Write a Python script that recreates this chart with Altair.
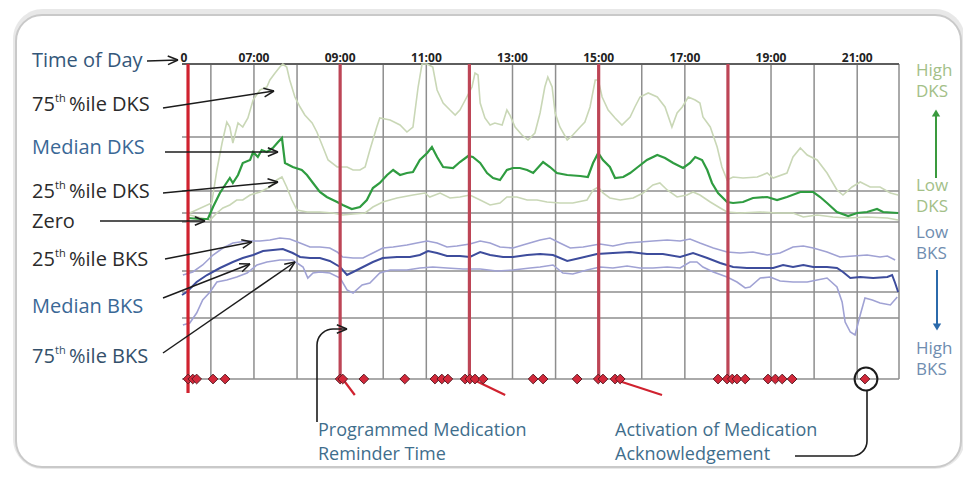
import math
import altair as alt
import pandas as pd

# ---------------- data (time of day in hours, score units) ----------------
dks_median = [(5.47,-0.5),(5.74,-0.6),(5.93,-0.6),(6.05,0.6),(6.21,2.0),(6.33,2.8),(6.44,3.5),(6.51,3.0),(6.63,3.8),(6.74,5.0),
    (6.91,5.3),(6.98,6.1),(7.09,5.6),(7.18,6.3),(7.30,6.1),(7.44,6.5),(7.56,7.1),(7.65,7.5),(7.72,5.0),(7.90,4.6),
    (8.11,4.3),(8.23,3.8),(8.37,3.0),(8.53,2.1),(8.69,1.6),(8.93,1.1),(9.06,0.8),(9.27,0.4),(9.46,0.6),(9.62,1.3),
    (9.76,2.5),(9.92,3.0),(10.09,3.8),(10.23,4.3),(10.39,3.8),(10.55,4.0),(10.69,4.1),(10.85,5.3),(11.02,6.0),(11.13,6.6),
    (11.25,5.6),(11.39,4.6),(11.62,4.5),(11.78,5.1),(11.97,5.7),(12.08,5.6),(12.25,5.0),(12.41,4.0),(12.55,3.5),(12.71,3.3),
    (12.87,4.3),(13.01,4.5),(13.17,4.5),(13.34,4.3),(13.48,4.0),(13.71,5.1),(13.87,4.6),(14.03,4.0),(14.27,3.8),(14.57,3.7),
    (14.75,3.6),(14.87,5.0),(14.99,6.0),(15.10,5.3),(15.26,4.6),(15.38,3.5),(15.57,3.6),(15.73,4.0),(15.91,4.6),(16.12,5.3),
    (16.36,5.8),(16.54,5.5),(16.73,5.0),(16.96,4.5),(17.12,5.0),(17.24,5.6),(17.40,5.3),(17.52,4.3),(17.63,3.0),(17.77,2.0),
    (17.98,1.1),(18.12,1.0),(18.35,1.1),(18.58,1.5),(18.91,1.6),(19.14,1.3),(19.37,1.6),(19.68,2.1),(19.98,2.1),(20.14,1.6),
    (20.30,1.0),(20.53,0.1),(20.79,-0.3),(21.00,0.0),(21.23,0.1),(21.46,0.4),(21.60,0.1),(21.95,0.0)]

dks_p75 = [(5.51,0.0),(6.02,1.0),(6.14,4.3),(6.26,7.0),(6.37,9.1),(6.44,8.6),(6.51,7.0),(6.63,9.0),(6.74,8.6),(6.86,9.5),
    (6.98,11.3),(7.14,12.3),(7.30,12.6),(7.37,13.3),(7.49,14.0),(7.60,14.6),(7.67,14.9),(7.76,14.6),(7.83,13.3),(7.95,11.6),
    (8.07,10.6),(8.18,9.8),(8.35,9.0),(8.46,8.1),(8.60,6.6),(8.72,5.3),(8.93,4.6),(9.16,4.6),(9.30,4.3),(9.46,4.3),
    (9.58,4.6),(9.69,6.3),(9.85,8.6),(9.92,9.5),(10.16,9.3),(10.39,8.8),(10.55,8.1),(10.69,8.6),(10.81,12.6),(10.90,14.9),
    (11.02,14.9),(11.15,14.6),(11.25,12.3),(11.39,11.0),(11.55,10.3),(11.67,9.8),(11.78,10.3),(11.94,11.6),(12.06,12.6),(12.13,14.0),
    (12.20,13.8),(12.25,11.0),(12.36,9.5),(12.48,8.8),(12.59,9.0),(12.76,8.8),(12.87,10.3),(12.94,9.8),(13.06,8.6),(13.22,7.8),
    (13.36,7.3),(13.52,8.0),(13.64,10.0),(13.75,12.6),(13.82,13.6),(13.92,12.6),(13.99,10.0),(14.10,8.6),(14.27,7.3),(14.40,7.8),
    (14.57,8.6),(14.68,9.1),(14.80,10.6),(14.92,13.3),(14.99,13.3),(15.08,11.6),(15.22,10.3),(15.38,9.5),(15.54,8.8),(15.73,9.6),
    (15.84,10.6),(15.96,11.6),(16.15,12.0),(16.36,11.6),(16.54,10.6),(16.70,8.6),(16.82,10.0),(16.94,10.6),(17.08,11.6),(17.24,11.3),
    (17.35,11.0),(17.42,9.6),(17.59,8.6),(17.75,6.6),(17.86,4.6),(17.98,3.3),(18.12,3.6),(18.35,3.5),(18.68,3.6),(18.91,4.0),
    (19.05,3.5),(19.37,4.0),(19.51,5.6),(19.68,6.5),(19.84,5.8),(20.07,5.3),(20.30,4.0),(20.53,2.3),(20.67,1.8),(20.88,2.6),
    (21.07,3.1),(21.30,2.6),(21.53,2.6),(21.77,2.0),(21.95,1.8)]

dks_p25 = [(5.51,-0.2),(5.98,-0.7),(6.14,0.0),(6.28,0.5),(6.44,0.8),(6.60,1.3),(6.74,1.3),(6.91,1.8),(7.14,2.1),(7.37,2.6),
    (7.53,3.3),(7.65,3.6),(7.76,2.6),(7.88,1.3),(8.00,0.3),(8.23,0.1),(8.53,0.1),(8.83,0.0),(9.06,-0.2),(9.30,-0.1),
    (9.58,0.0),(9.76,0.6),(9.99,1.1),(10.32,1.5),(10.69,1.8),(10.97,2.0),(11.08,1.6),(11.32,2.0),(11.55,1.5),(11.78,1.6),
    (12.01,1.8),(12.25,1.3),(12.48,0.8),(12.71,1.0),(12.87,1.6),(13.10,1.6),(13.34,1.3),(13.57,1.3),(13.80,1.1),(14.10,1.0),
    (14.40,1.0),(14.73,1.3),(14.87,2.3),(14.99,2.6),(15.10,2.0),(15.26,1.5),(15.50,1.3),(15.80,1.5),(16.03,2.0),(16.26,2.8),
    (16.42,3.0),(16.59,2.3),(16.82,1.6),(17.05,1.8),(17.19,2.1),(17.35,1.8),(17.59,1.1),(17.82,0.5),(17.98,0.1),(18.28,0.0),
    (18.75,0.1),(19.14,0.0),(19.51,0.0),(19.75,-0.4),(20.07,-0.2),(20.44,-0.4),(20.77,-0.5),(21.23,-0.4),(21.70,-0.5),(21.95,-0.7)]

bks_p25 = [(5.35,-6.2),(5.58,-5.9),(5.81,-5.2),(6.05,-4.2),(6.28,-3.5),(6.51,-3.0),(6.84,-2.8),(7.14,-2.8),(7.37,-2.7),(7.60,-2.5),
    (7.83,-2.6),(8.07,-3.0),(8.30,-3.4),(8.53,-3.4),(8.76,-3.5),(8.93,-3.9),(9.06,-4.4),(9.30,-4.5),(9.53,-4.5),(9.76,-4.0),
    (9.99,-3.5),(10.23,-3.4),(10.55,-3.2),(10.78,-3.0),(11.02,-2.8),(11.25,-3.0),(11.48,-3.4),(11.71,-3.3),(12.01,-3.1),(12.25,-2.8),
    (12.48,-3.0),(12.71,-3.4),(13.01,-3.5),(13.24,-3.2),(13.48,-2.9),(13.64,-2.7),(13.87,-2.5),(14.10,-3.0),(14.34,-3.5),(14.64,-3.4),
    (15.03,-3.1),(15.33,-3.3),(15.66,-3.0),(15.96,-2.9),(16.26,-2.8),(16.59,-2.7),(16.89,-2.8),(17.12,-2.6),(17.35,-3.0),(17.66,-3.5),
    (17.98,-3.9),(18.28,-4.0),(18.58,-3.9),(18.91,-4.2),(19.21,-4.0),(19.51,-3.4),(19.75,-3.3),(19.98,-3.5),(20.30,-3.9),(20.60,-4.4),
    (20.91,-4.3),(21.23,-4.2),(21.53,-4.4),(21.70,-4.3),(21.88,-4.7)]

bks_median = [(5.33,-8.2),(5.44,-7.9),(5.67,-6.9),(5.91,-6.2),(6.21,-5.5),(6.51,-4.9),(6.74,-4.5),(6.98,-4.2),(7.21,-3.8),(7.44,-3.7),
    (7.67,-3.6),(7.90,-4.0),(8.07,-4.4),(8.30,-4.5),(8.53,-4.5),(8.76,-4.8),(9.00,-5.4),(9.16,-6.2),(9.30,-5.9),(9.53,-5.4),
    (9.76,-4.9),(9.99,-4.5),(10.32,-4.4),(10.62,-4.4),(10.85,-4.2),(11.04,-3.8),(11.25,-4.0),(11.48,-4.3),(11.78,-4.3),(12.01,-4.4),
    (12.25,-3.9),(12.48,-4.2),(12.78,-4.4),(13.01,-4.4),(13.34,-4.2),(13.64,-4.1),(13.94,-4.2),(14.27,-4.8),(14.57,-4.5),(14.96,-4.1),
    (15.33,-4.0),(15.73,-3.9),(16.12,-4.1),(16.49,-4.1),(16.89,-4.4),(17.19,-4.0),(17.52,-4.5),(17.82,-5.0),(18.12,-5.4),(18.44,-5.5),
    (18.75,-5.5),(19.05,-5.5),(19.28,-5.2),(19.51,-5.4),(19.75,-5.2),(19.98,-5.4),(20.30,-5.4),(20.53,-5.5),(20.67,-5.9),(20.84,-6.5),
    (21.07,-6.4),(21.37,-6.5),(21.70,-6.4),(21.81,-6.2),(21.88,-7.0),(21.95,-7.9)]

bks_p75 = [(5.35,-11.2),(5.51,-11.0),(5.67,-10.0),(5.81,-8.7),(5.98,-7.9),(6.14,-6.9),(6.37,-6.7),(6.60,-6.4),(6.84,-6.0),(7.07,-5.2),
    (7.30,-4.9),(7.60,-4.7),(7.90,-4.7),(8.14,-5.4),(8.25,-6.5),(8.37,-6.0),(8.53,-5.9),(8.76,-6.0),(9.00,-6.5),(9.16,-7.7),
    (9.30,-8.0),(9.51,-7.2),(9.69,-7.0),(9.92,-6.0),(10.16,-5.7),(10.55,-5.7),(10.85,-5.5),(11.15,-5.4),(11.48,-5.5),(11.85,-5.6),
    (12.25,-5.6),(12.64,-5.8),(13.01,-5.7),(13.41,-5.5),(13.64,-5.4),(13.94,-5.2),(14.17,-6.0),(14.40,-6.1),(14.73,-5.7),(15.03,-5.4),
    (15.33,-5.5),(15.66,-5.3),(15.96,-5.5),(16.26,-5.5),(16.59,-5.4),(16.89,-5.5),(17.12,-4.9),(17.28,-4.9),(17.42,-5.4),(17.66,-5.9),
    (17.98,-6.4),(18.21,-6.9),(18.40,-7.5),(18.51,-7.4),(18.75,-6.5),(18.98,-6.4),(19.21,-6.8),(19.51,-6.9),(19.84,-6.9),(20.07,-6.7),
    (20.30,-6.5),(20.53,-7.4),(20.65,-8.9),(20.72,-10.9),(20.84,-11.9),(20.95,-12.2),(21.07,-10.2),(21.18,-8.5),(21.35,-8.7),(21.53,-9.0),
    (21.77,-9.2),(21.93,-8.4)]

grid_levels = [14.9, 7.6, 2.2, 0.0, -0.9, -5.8, -7.9, -10.5, -16.6]
grid_hours = [6, 7, 8, 9, 10, 11, 12, 13, 14, 15, 16, 17, 18, 19, 20, 21, 21.97]
tick_hours = [7, 9, 11, 13, 15, 17, 19, 21]
tick_labels = ["07:00", "09:00", "11:00", "13:00", "15:00", "17:00", "19:00", "21:00"]
reminder_hours = [5.47, 9.0, 12.0, 15.0, 18.0]
reminder_bottom = [-18.0, -16.6, -16.6, -16.6, -16.6]
reminder_color = ["#d0222f", "#bd4556", "#bd4556", "#bd4556", "#bd4556"]
tail_start = [9.06, 12.06, 15.33]
tail_end = [9.34, 12.83, 16.47]
ack_hours = [5.47, 5.58, 5.67, 6.05, 6.33, 9.00, 9.06, 9.55, 10.50, 11.20, 11.36, 11.50, 11.90, 12.01,
             12.13, 12.32, 13.48, 13.71, 14.50, 14.99, 15.10, 15.38, 15.50, 17.77, 17.98, 18.10, 18.21,
             18.40, 18.93, 19.10, 19.26, 19.49, 21.18]

# ---------------- layout ----------------
X0, X1 = 5.33, 21.97
Y0, Y1 = -16.6, 14.9
W, H = 717, 315
OX, OY = 182, 64          # page position of the plot's top-left corner
FONT = "Open Sans"

xs = alt.Scale(domain=[X0, X1], nice=False, zero=False)
ys = alt.Scale(domain=[Y0, Y1], nice=False, zero=False)


def pairs_df(pairs):
    return pd.DataFrame({"t": [p[0] for p in pairs], "v": [p[1] for p in pairs]})


def line_layer(pairs, color, width):
    return alt.Chart(pairs_df(pairs)).mark_line(color=color, strokeWidth=width).encode(
        x=alt.X("t:Q", scale=xs, axis=None),
        y=alt.Y("v:Q", scale=ys, axis=None),
    )


# background card
card = pd.DataFrame({"x": [16 - OX], "x2": [961 - OX], "y": [15 - OY], "y2": [467 - OY]})
shadow = pd.DataFrame({"x": [13 - OX], "x2": [965 - OX], "y": [9 - OY], "y2": [469 - OY]})
shadow_l = alt.Chart(shadow).mark_rect(cornerRadius=30, fill="#dedede", opacity=0.7).encode(
    x=alt.X("x:Q", scale=None), x2="x2:Q", y=alt.Y("y:Q", scale=None), y2="y2:Q")
card_l = alt.Chart(card).mark_rect(cornerRadius=26, fill="white", stroke="#c9c9c9", strokeWidth=2).encode(
    x=alt.X("x:Q", scale=None), x2="x2:Q", y=alt.Y("y:Q", scale=None), y2="y2:Q")

# grid
hgrid = alt.Chart(pd.DataFrame({"level": grid_levels})).mark_rule(color="#8e8e8e", strokeWidth=1.5).encode(
    y=alt.Y("level:Q", scale=ys, axis=None), x=alt.value(0), x2=alt.value(W))
topline = alt.Chart(pd.DataFrame({"level": [Y1]})).mark_rule(color="#5e5e5e", strokeWidth=2).encode(
    y=alt.Y("level:Q", scale=ys, axis=None), x=alt.value(0), x2=alt.value(W))
vgrid = alt.Chart(pd.DataFrame({"hour": grid_hours})).mark_rule(color="#8e8e8e", strokeWidth=1.5).encode(
    x=alt.X("hour:Q", scale=xs, axis=None), y=alt.value(0), y2=alt.value(H))

ticks = alt.Chart(pd.DataFrame({"hour": tick_hours, "label": tick_labels})).mark_text(
    font=FONT, fontSize=12, fontWeight="bold", color="#222222", baseline="middle", align="center").encode(
    x=alt.X("hour:Q", scale=xs, axis=None), y=alt.value(58 - OY), text="label:N")

# series
l_dks75 = line_layer(dks_p75, "#c9d7b6", 1.6)
l_dks25 = line_layer(dks_p25, "#c9d7b6", 1.6)
l_bks25 = line_layer(bks_p25, "#a0a2d4", 1.6)
l_bks75 = line_layer(bks_p75, "#a0a2d4", 1.6)
l_bksm = line_layer(bks_median, "#3d4c9c", 2.0)
l_dksm = line_layer(dks_median, "#2f9c40", 2.2)

# reminder lines, tails and acknowledgements
rem_df = pd.DataFrame({"hour": reminder_hours, "top": [Y1] * len(reminder_hours),
                       "bottom": reminder_bottom, "c": reminder_color})
reminders = alt.Chart(rem_df).mark_rule(strokeWidth=3.2).encode(
    x=alt.X("hour:Q", scale=xs, axis=None), y=alt.Y("top:Q", scale=ys, axis=None), y2="bottom:Q",
    color=alt.Color("c:N", scale=None))
tail_df = pd.DataFrame({"t0": tail_start, "t1": tail_end, "v0": [Y0] * 3, "v1": [-18.2] * 3})
tails = alt.Chart(tail_df).mark_rule(color="#d0222f", strokeWidth=2.2).encode(
    x=alt.X("t0:Q", scale=xs, axis=None), x2="t1:Q", y=alt.Y("v0:Q", scale=ys, axis=None), y2="v1:Q")
acks = alt.Chart(pd.DataFrame({"hour": ack_hours, "v": [Y0] * len(ack_hours)})).mark_point(
    shape="diamond", filled=True, size=95, fill="#d3283a", stroke="#5b1a22", strokeWidth=1, opacity=1).encode(
    x=alt.X("hour:Q", scale=xs, axis=None), y=alt.Y("v:Q", scale=ys, axis=None))

# ---------------- annotations (page pixel positions) ----------------
def arrow(x1, y1, x2, y2, head=11, spread=0.4):
    a = math.atan2(y2 - y1, x2 - x1)
    segs = [(x1, y1, x2, y2)]
    for s in (spread, -spread):
        segs.append((x2, y2, x2 - head * math.cos(a + s), y2 - head * math.sin(a + s)))
    return segs


arrow_defs = [(147, 61, 178, 60), (163, 108, 274, 91), (165, 152, 278, 152), (163, 193, 278, 182),
              (100, 221, 205, 221), (165, 259, 252, 242), (163, 298, 250, 264), (163, 353, 295, 262)]
segs = []
for a in arrow_defs:
    segs += arrow(*a)
segs += arrow(333, 329, 347, 329)[1:]
seg_df = pd.DataFrame(segs, columns=["x", "y", "x2", "y2"])
seg_df[["x", "x2"]] -= OX
seg_df[["y", "y2"]] -= OY
arrows_l = alt.Chart(seg_df).mark_rule(color="#1c1c1c", strokeWidth=1.5).encode(
    x=alt.X("x:Q", scale=None), x2="x2:Q", y=alt.Y("y:Q", scale=None), y2="y2:Q")

curve_rows = []
pts = [(317, 422), (317, 345)]
pts += [(333 + 16 * math.cos(math.radians(180 + 10 * k)), 345 + 16 * math.sin(math.radians(180 + 10 * k))) for k in range(1, 10)]
pts += [(347, 329)]
for i, (px, py) in enumerate(pts):
    curve_rows.append(("prog", i, px - OX, py - OY))
pts = [(867, 391), (867, 441)]
pts += [(852 + 15 * math.cos(math.radians(10 * k)), 441 + 15 * math.sin(math.radians(10 * k))) for k in range(1, 10)]
pts += [(795, 456)]
for i, (px, py) in enumerate(pts):
    curve_rows.append(("ack", i, px - OX, py - OY))
curve_df = pd.DataFrame(curve_rows, columns=["path", "o", "x", "y"])
curves = alt.Chart(curve_df).mark_line(color="#1c1c1c", strokeWidth=1.6).encode(
    x=alt.X("x:Q", scale=None), y=alt.Y("y:Q", scale=None), detail="path:N", order="o:Q")

ring = alt.Chart(pd.DataFrame({"x": [866 - OX], "y": [379 - OY]})).mark_point(
    shape="circle", size=520, filled=False, stroke="#1c1c1c", strokeWidth=2, opacity=1).encode(
    x=alt.X("x:Q", scale=None), y=alt.Y("y:Q", scale=None))

# side arrows
side_df = pd.DataFrame({"x": [936 - OX, 937 - OX], "y": [178 - OY, 270 - OY], "y2": [116 - OY, 324 - OY],
                        "c": ["#3a9a3e", "#2b6aab"]})
side_shafts = alt.Chart(side_df).mark_rule(strokeWidth=2).encode(
    x=alt.X("x:Q", scale=None), y=alt.Y("y:Q", scale=None), y2="y2:Q", color=alt.Color("c:N", scale=None))
heads_df = pd.DataFrame({"x": [936 - OX, 937 - OX], "y": [113 - OY, 327 - OY],
                         "s": ["triangle-up", "triangle-down"], "c": ["#3a9a3e", "#2b6aab"]})
side_heads = alt.Chart(heads_df).mark_point(filled=True, size=70, opacity=1).encode(
    x=alt.X("x:Q", scale=None), y=alt.Y("y:Q", scale=None),
    shape=alt.Shape("s:N", scale=None), fill=alt.Color("c:N", scale=None), stroke=alt.value(None))

# texts
DK = "#2b2b2b"
BL = "#3a6896"
TL = "#3f6e8c"
GR = "#a3c088"
BG = "#6f8db0"
texts = [
    ("Time of Day", 32, 61, "#34577a", 20),
    ("75", 32, 105, DK, 20), ("th", 55, 99, DK, 11), ("%ile DKS", 69, 105, DK, 20),
    ("Median DKS", 32, 148, BL, 20),
    ("25", 32, 192, DK, 20), ("th", 55, 186, DK, 11), ("%ile DKS", 69, 192, DK, 20),
    ("Zero", 32, 222, DK, 20),
    ("25", 32, 260, DK, 20), ("th", 55, 254, DK, 11), ("%ile BKS", 69, 260, DK, 20),
    ("Median BKS", 32, 307, BL, 20),
    ("75", 32, 357, "#34506a", 20), ("th", 55, 351, "#34506a", 11), ("%ile BKS", 69, 357, "#34506a", 20),
    ("Programmed Medication", 318, 431, TL, 18), ("Reminder Time", 318, 455, TL, 18),
    ("Activation of Medication", 615, 431, TL, 18), ("Acknowledgement", 615, 455, TL, 18),
    ("High", 916, 71, GR, 17), ("DKS", 916, 92, GR, 17), ("Low", 916, 186, GR, 17), ("DKS", 916, 207, GR, 17),
    ("Low", 916, 233, BG, 17), ("BKS", 916, 254, BG, 17), ("High", 916, 349, BG, 17), ("BKS", 916, 370, BG, 17),
]
text_df = pd.DataFrame(texts, columns=["text", "x", "y", "c", "fs"])
text_df["x"] -= OX
text_df["y"] -= OY
labels = alt.Chart(text_df).mark_text(font=FONT, align="left", baseline="middle").encode(
    x=alt.X("x:Q", scale=None), y=alt.Y("y:Q", scale=None), text="text:N",
    color=alt.Color("c:N", scale=None), size=alt.Size("fs:Q", scale=None))
zero_lbl = alt.Chart(pd.DataFrame({"x": [184 - OX], "y": [58 - OY], "text": ["0"]})).mark_text(
    font=FONT, fontSize=12, fontWeight="bold", color="#222222", align="center", baseline="middle").encode(
    x=alt.X("x:Q", scale=None), y=alt.Y("y:Q", scale=None), text="text:N")

chart = alt.layer(
    shadow_l, card_l, hgrid, vgrid, topline,
    l_dks75, l_dks25, l_bks25, l_bks75, l_bksm, l_dksm,
    reminders, tails, acks, ring,
    arrows_l, curves, side_shafts, side_heads, labels, ticks, zero_lbl,
).resolve_scale(
    x="independent", y="independent", color="independent", size="independent", shape="independent", fill="independent"
).properties(
    width=W, height=H,
    padding={"left": 174, "top": 56, "right": 64, "bottom": 90},
    autosize=alt.AutoSizeParams(type="none"),
    background="white",
).configure_view(stroke=None)

chart.save("out.html", embed_options={"renderer": "svg", "actions": False})
